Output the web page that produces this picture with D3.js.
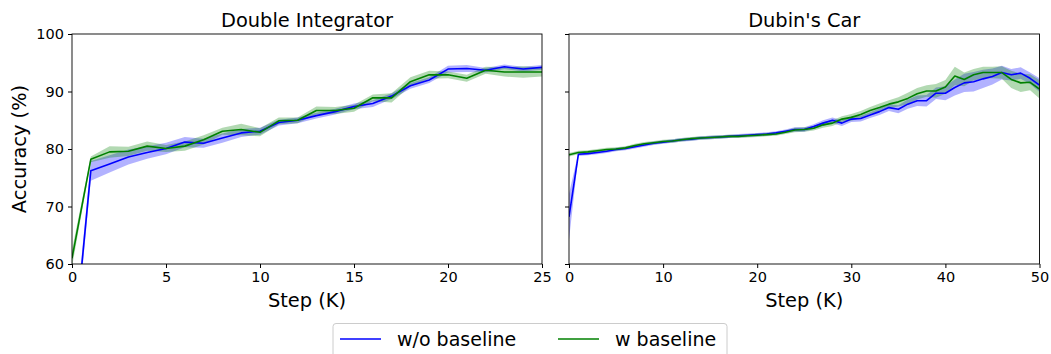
<!DOCTYPE html>
<html>
<head>
<meta charset="utf-8">
<script src="https://cdn.jsdelivr.net/npm/d3@7"></script>
<style>
  body { margin: 0; background: #fff; }
  svg { display: block; font-family: "DejaVu Sans", sans-serif; }
</style>
</head>
<body>
<svg id="chart" width="1051" height="354"></svg>
<script>
// Double Integrator, steps 0..25 (K)
const diSteps = d3.range(0, 26);
const diNoBase = [42.0, 76.2, 77.4, 78.6, 79.4, 80.1, 81.2, 81.0, 81.9, 82.8, 83.1, 84.6, 85.0, 85.8, 86.5, 87.4,
  87.9, 89.2, 91.0, 92.0, 93.9, 94.0, 93.7, 94.3, 93.9, 94.2];
const diNoBaseStd = [2.0, 1.7, 1.5, 1.3, 1.1, 1.0, 0.9, 0.8, 0.8, 0.7, 0.6, 0.5, 0.5, 0.5, 0.5, 0.5,
  0.6, 0.5, 0.5, 0.5, 0.6, 0.6, 0.4, 0.4, 0.4, 0.4];
const diBase = [61.0, 78.2, 79.5, 79.6, 80.5, 80.1, 80.5, 81.6, 83.1, 83.4, 82.9, 84.9, 85.0, 86.7, 86.7, 87.1,
  88.9, 88.9, 91.7, 92.9, 92.9, 92.3, 93.7, 93.4, 93.4, 93.4];
const diBaseStd = [1.5, 0.5, 1.0, 0.8, 0.8, 0.6, 0.8, 0.8, 0.6, 1.0, 0.7, 0.6, 0.5, 0.7, 0.6, 0.6,
  0.6, 0.8, 0.8, 0.7, 0.6, 0.6, 0.6, 0.8, 1.0, 0.8];

// Dubin's Car, steps 0..50 (K)
const dcSteps = d3.range(0, 51);
const dcNoBase = [68.2, 79.1, 79.2, 79.4, 79.6, 79.9, 80.1, 80.4, 80.7, 81.0, 81.2, 81.4, 81.6, 81.7, 81.9, 82.0,
  82.1, 82.2, 82.3, 82.4, 82.5, 82.6, 82.8, 83.1, 83.4, 83.4, 83.9, 84.5, 85.0, 84.5, 85.2, 85.3, 85.9, 86.5,
  87.2, 86.9, 87.8, 88.4, 88.4, 89.7, 89.7, 90.7, 91.5, 91.7, 92.2, 92.6, 93.3, 92.9, 93.2, 92.3, 91.1];
const dcNoBaseStd = [4.0, 0.3, 0.3, 0.3, 0.3, 0.3, 0.3, 0.3, 0.3, 0.3, 0.3, 0.3, 0.3, 0.3, 0.3, 0.3,
  0.3, 0.3, 0.3, 0.3, 0.3, 0.3, 0.3, 0.3, 0.4, 0.4, 0.4, 0.5, 0.5, 0.5, 0.5, 0.5, 0.5, 0.6,
  0.6, 0.7, 0.8, 0.9, 1.0, 1.0, 1.2, 1.4, 1.6, 1.7, 1.6, 1.4, 1.2, 1.0, 1.0, 1.0, 1.2];
const dcBase = [79.0, 79.4, 79.5, 79.7, 79.9, 80.0, 80.2, 80.6, 80.9, 81.1, 81.3, 81.4, 81.6, 81.8, 81.9, 82.0,
  82.1, 82.2, 82.2, 82.3, 82.4, 82.5, 82.6, 82.9, 83.3, 83.4, 83.6, 84.2, 84.5, 85.2, 85.5, 86.0, 86.7, 87.2,
  87.8, 88.2, 88.8, 89.6, 90.1, 90.1, 90.8, 92.7, 92.1, 92.9, 93.3, 93.3, 93.3, 92.1, 91.5, 91.6, 90.4];
const dcBaseStd = [0.3, 0.3, 0.3, 0.3, 0.3, 0.3, 0.3, 0.3, 0.3, 0.3, 0.3, 0.3, 0.3, 0.3, 0.3, 0.3,
  0.3, 0.3, 0.3, 0.3, 0.3, 0.3, 0.3, 0.3, 0.4, 0.4, 0.4, 0.5, 0.5, 0.5, 0.6, 0.6, 0.6, 0.7,
  0.7, 0.8, 1.0, 1.0, 1.0, 1.2, 1.2, 1.6, 1.2, 1.0, 1.0, 1.0, 1.1, 1.5, 1.6, 1.4, 1.6];

const yTicks = [60, 70, 80, 90, 100];
const seriesNames = ['w/o baseline', 'w baseline'];
const seriesColors = ['#0000ff', '#008000'];

const svg = d3.select('#chart');
const plotTop = 34, plotBottom = 264;

const y = d3.scaleLinear().domain([60, 100]).range([plotBottom, plotTop]);

const panels = [
  { title: 'Double Integrator', left: 72, right: 542, steps: diSteps, xmax: 25, xticks: [0, 5, 10, 15, 20, 25],
    series: [[diNoBase, diNoBaseStd], [diBase, diBaseStd]], ylabels: true },
  { title: "Dubin's Car", left: 569, right: 1039.5, steps: dcSteps, xmax: 50, xticks: [0, 10, 20, 30, 40, 50],
    series: [[dcNoBase, dcNoBaseStd], [dcBase, dcBaseStd]], ylabels: false }
];

panels.forEach((p, pi) => {
  const x = d3.scaleLinear().domain([0, p.xmax]).range([p.left, p.right]);
  const g = svg.append('g');

  g.append('clipPath').attr('id', 'clip' + pi)
    .append('rect')
    .attr('x', p.left).attr('y', plotTop)
    .attr('width', p.right - p.left).attr('height', plotBottom - plotTop);

  const plot = g.append('g').attr('clip-path', `url(#clip${pi})`);

  // shaded bands
  p.series.forEach(([mean, std], si) => {
    const area = d3.area()
      .x((d, i) => x(p.steps[i]))
      .y0((d, i) => y(mean[i] - std[i]))
      .y1((d, i) => y(mean[i] + std[i]));
    plot.append('path')
      .datum(mean)
      .attr('d', area)
      .attr('fill', seriesColors[si])
      .attr('fill-opacity', 0.3)
      .attr('stroke', 'none');
  });

  p.series.forEach(([mean], si) => {
    const line = d3.line()
      .x((d, i) => x(p.steps[i]))
      .y(d => y(d));
    plot.append('path')
      .datum(mean)
      .attr('d', line)
      .attr('fill', 'none')
      .attr('stroke', seriesColors[si])
      .attr('stroke-width', 1.6)
      .attr('stroke-linejoin', 'round');
  });

  // axes
  const xAxis = d3.axisBottom(x).tickValues(p.xticks).tickSize(4).tickPadding(4).tickFormat(d3.format('d'));
  const gx = g.append('g').attr('transform', `translate(0,${plotBottom})`).call(xAxis);
  gx.select('.domain').remove();
  gx.selectAll('text').attr('font-size', 14.5).attr('fill', '#000').attr('font-family', '"DejaVu Sans", sans-serif');

  const yAxis = d3.axisLeft(y).tickValues(yTicks).tickSize(4).tickPadding(4)
    .tickFormat(p.ylabels ? d3.format('d') : () => '');
  const gy = g.append('g').attr('transform', `translate(${p.left},0)`).call(yAxis);
  gy.select('.domain').remove();
  gy.selectAll('text').attr('font-size', 14.5).attr('fill', '#000').attr('font-family', '"DejaVu Sans", sans-serif');

  // frame
  g.append('rect')
    .attr('x', p.left).attr('y', plotTop)
    .attr('width', p.right - p.left).attr('height', plotBottom - plotTop)
    .attr('fill', 'none').attr('stroke', '#000').attr('stroke-width', 0.9);

  g.append('text')
    .attr('x', (p.left + p.right) / 2).attr('y', 27.3)
    .attr('text-anchor', 'middle').attr('font-size', 19.4)
    .text(p.title);

  g.append('text')
    .attr('x', (p.left + p.right) / 2).attr('y', 307.3)
    .attr('text-anchor', 'middle').attr('font-size', 19.4)
    .text('Step (K)');
});

svg.append('text')
  .attr('transform', `translate(26,${(plotTop + plotBottom) / 2}) rotate(-90)`)
  .attr('text-anchor', 'middle').attr('font-size', 19.4)
  .text('Accuracy (%)');

// legend
const legend = svg.append('g');
legend.append('rect')
  .attr('x', 333).attr('y', 323.5).attr('width', 394).attr('height', 40)
  .attr('rx', 3).attr('fill', '#fff').attr('fill-opacity', 0.8)
  .attr('stroke', '#cccccc').attr('stroke-width', 1);
const legendX = [340, 558];
seriesNames.forEach((name, i) => {
  legend.append('line')
    .attr('x1', legendX[i]).attr('x2', legendX[i] + 41)
    .attr('y1', 339).attr('y2', 339)
    .attr('stroke', seriesColors[i]).attr('stroke-width', 1.6);
  legend.append('text')
    .attr('x', legendX[i] + 57).attr('y', 345.7)
    .attr('font-size', 19)
    .text(name);
});
</script>
</body>
</html>
